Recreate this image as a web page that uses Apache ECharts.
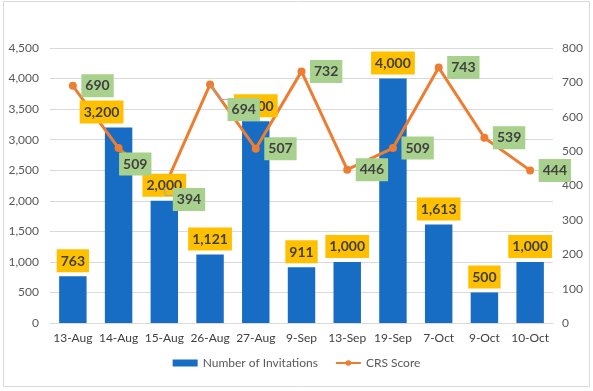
<!DOCTYPE html>
<html>
<head>
<meta charset="utf-8">
<script src="https://cdn.jsdelivr.net/npm/echarts@6/dist/echarts.min.js"></script>
<style>
  html, body { margin: 0; padding: 0; background: #fff; }
  #chart { width: 593px; height: 391px; }
</style>
</head>
<body>
<div id="chart"></div>
<script>
const categories = ['13-Aug', '14-Aug', '15-Aug', '26-Aug', '27-Aug', '9-Sep', '13-Sep', '19-Sep', '7-Oct', '9-Oct', '10-Oct'];
const invitations = [763, 3200, 2000, 1121, 3300, 911, 1000, 4000, 1613, 500, 1000];
const crsScores = [690, 509, 394, 694, 507, 732, 446, 509, 743, 539, 444];
const leftTicks = { min: 0, max: 4500, interval: 500 };
const rightTicks = { min: 0, max: 800, interval: 100 };

const font = 'Lato, "Open Sans", sans-serif';
const chart = echarts.init(document.getElementById('chart'), null, { renderer: 'canvas' });

const barLabelData = invitations.map((v, i) => {
  if (i === 1) return { value: v, label: { offset: [-17, 0] } };
  return v;
});

const lineLabelMoves = { 1: [-8, 16], 2: [0, 12], 3: [9, 25] };
const labelDistance = 8;
const guidedIdx = [2, 3];

const boxLabel = {
  show: true,
  color: '#404040',
  fontWeight: 'bold',
  fontSize: 14,
  fontFamily: font,
  padding: [5, 4, 4, 4]
};

chart.setOption({
  animation: false,
  textStyle: { fontFamily: font },
  graphic: {
    elements: [{
      id: 'border',
      type: 'rect',
      shape: { x: 3.5, y: 1.5, width: 586, height: 385 },
      style: { fill: 'none', stroke: '#D9D9D9', lineWidth: 1 },
      silent: true
    }]
  },
  grid: { left: 50, right: 40, top: 48, bottom: 68 },
  legend: {
    bottom: 17,
    left: 'center',
    itemGap: 17,
    itemWidth: 25,
    itemHeight: 7,
    textStyle: { color: '#595959', fontSize: 12, fontFamily: font },
    data: [
      { name: 'Number of Invitations', icon: 'rect' },
      { name: 'CRS Score' }
    ]
  },
  xAxis: {
    type: 'category',
    data: categories,
    axisLine: { lineStyle: { color: '#D9D9D9' } },
    axisTick: { show: false },
    axisLabel: { color: '#404040', fontSize: 12, margin: 9, fontFamily: font, interval: 0 }
  },
  yAxis: [
    {
      type: 'value',
      min: leftTicks.min, max: leftTicks.max, interval: leftTicks.interval,
      axisLine: { show: false },
      axisTick: { show: false },
      splitLine: { lineStyle: { color: '#D9D9D9' } },
      axisLabel: {
        color: '#595959', fontSize: 12, margin: 11, fontFamily: font,
        formatter: v => v.toLocaleString('en-US')
      }
    },
    {
      type: 'value',
      min: rightTicks.min, max: rightTicks.max, interval: rightTicks.interval,
      axisLine: { show: false },
      axisTick: { show: false },
      splitLine: { show: false },
      axisLabel: { color: '#595959', fontSize: 12, margin: 9, fontFamily: font }
    }
  ],
  series: [
    {
      name: 'Number of Invitations',
      type: 'bar',
      yAxisIndex: 0,
      data: invitations,
      barCategoryGap: '40%',
      barGap: '-100%',
      itemStyle: { color: '#176CC3' },
      z: 2
    },
    {
      name: 'CRS Score',
      type: 'line',
      yAxisIndex: 1,
      data: crsScores,
      symbol: 'circle',
      symbolSize: 8,
      lineStyle: { color: '#ED7D31', width: 3 },
      itemStyle: { color: '#ED7D31' },
      z: 3
    },
    {
      name: 'barLabels',
      type: 'bar',
      yAxisIndex: 0,
      data: barLabelData,
      barCategoryGap: '40%',
      barGap: '-100%',
      itemStyle: { color: 'rgba(0,0,0,0)' },
      silent: true,
      z: 4,
      label: Object.assign({}, boxLabel, {
        position: 'top',
        distance: 4,
        backgroundColor: '#FFC000',
        formatter: p => p.value.toLocaleString('en-US')
      })
    },
    {
      name: 'lineLabels',
      type: 'line',
      yAxisIndex: 1,
      data: crsScores,
      symbol: 'circle',
      symbolSize: 1,
      showSymbol: true,
      itemStyle: { color: 'rgba(0,0,0,0)' },
      lineStyle: { opacity: 0 },
      silent: true,
      z: 6,
      label: Object.assign({}, boxLabel, {
        position: 'right',
        distance: labelDistance,
        backgroundColor: '#A9D18E'
      }),
      labelLayout: function (params) {
        const m = lineLabelMoves[params.dataIndex];
        if (m) return { dx: m[0], dy: m[1] };
        return {};
      }
    }
  ]
});

// Leader lines for the two moved CRS labels, placed via the chart's own scales.
const guideEls = [];
guidedIdx.forEach(i => {
  const p = chart.convertToPixel({ xAxisIndex: 0, yAxisIndex: 1 }, [i, crsScores[i]]);
  if (!p) return;
  const m = lineLabelMoves[i];
  const boxLeft = p[0] + labelDistance + m[0];
  const yE = p[1] + m[1] - (i === 3 ? 10 : 4);
  const xE = p[0] + (i === 3 ? 10 : 1);
  guideEls.push({
    id: 'g' + i + 'a', type: 'line', silent: true, z: 5,
    shape: { x1: p[0], y1: p[1], x2: xE, y2: yE },
    style: { stroke: '#A6A6A6', lineWidth: 1 }
  });
  guideEls.push({
    id: 'g' + i + 'b', type: 'line', silent: true, z: 5,
    shape: { x1: xE, y1: yE, x2: boxLeft + 3, y2: yE },
    style: { stroke: '#A6A6A6', lineWidth: 1 }
  });
});
chart.setOption({ graphic: { elements: guideEls } });
</script>
</body>
</html>
